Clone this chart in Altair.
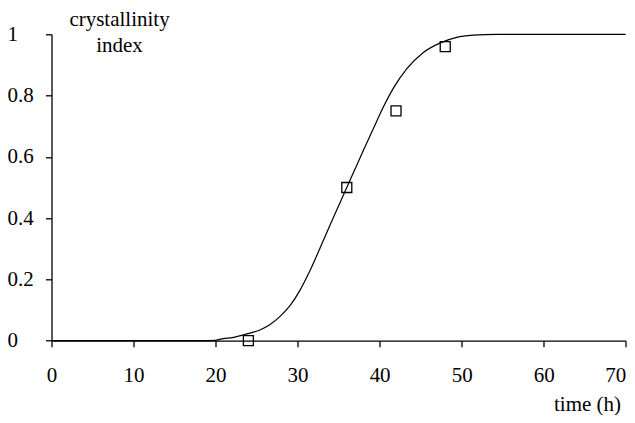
import altair as alt
import pandas as pd

# fitted curve
curve_time = [0, 10, 18, 20, 20.6, 22.2, 23.8, 25.4, 26.6, 27.9, 29.1, 30.3, 31.5, 32.7,
              34.0, 35.2, 36.0, 36.8, 38.0, 39.2, 40.5, 41.7, 43.3, 45.3, 47.4, 49.4,
              51.4, 54.3, 57, 60, 70]
curve_ci = [0, 0, 0, 0.001, 0.005, 0.011, 0.022, 0.035, 0.052, 0.08, 0.115, 0.165, 0.228, 0.30,
            0.38, 0.452, 0.50, 0.548, 0.62, 0.69, 0.765, 0.825, 0.887, 0.94, 0.972, 0.99,
            0.997, 1.0, 1.0, 1.0, 1.0]

# measured points
obs_time = [24, 36, 42, 48]
obs_ci = [0, 0.5, 0.75, 0.96]

x_ticks = [0, 10, 20, 30, 40, 50, 60, 70]
y_ticks = [0, 0.2, 0.4, 0.6, 0.8, 1]

curve_df = pd.DataFrame({"t": curve_time, "ci": curve_ci})
obs_df = pd.DataFrame({"t": obs_time, "ci": obs_ci})

FONT = "'Liberation Serif', 'Times New Roman', serif"

x_enc = alt.X(
    "t:Q",
    scale=alt.Scale(domain=[0, 70], nice=False),
    axis=alt.Axis(
        values=x_ticks,
        title="time (h)",
        titleAlign="right",
        titleBaseline="alphabetic",
        titleX=569,
        titleY=69.5,
        labelPadding=18,
        labelFlush=False,
        labelAlign={"condition": {"test": "datum.value == 70", "value": "right"}, "value": "center"},
    ),
)
y_enc = alt.Y(
    "ci:Q",
    scale=alt.Scale(domain=[0, 1], nice=False),
    axis=alt.Axis(
        values=y_ticks,
        format="~g",
        title=["crystallinity", "index"],
        titleAngle=0,
        titleAlign="center",
        titleBaseline="alphabetic",
        titleX=67.5,
        titleY=-9,
        titleLineHeight=26,
        labelAlign="left",
        labelBaseline="middle",
        labelPadding=38.5,
        labelFlush=False,
    ),
)

line = alt.Chart(curve_df).mark_line(
    color="black", strokeWidth=1.2, interpolate="monotone"
).encode(x=x_enc, y=y_enc)

pts = alt.Chart(obs_df).mark_point(
    shape="square", filled=False, size=100, color="black", strokeWidth=1.3, opacity=1
).encode(x="t:Q", y="ci:Q")

chart = (
    alt.layer(line, pts)
    .properties(
        width=574.2,
        height=306.4,
        autosize=alt.AutoSizeParams(type="none"),
        padding={"left": 43.5, "top": 26.3, "right": 1.3, "bottom": 74},
        background="white",
    )
    .configure_view(strokeWidth=0)
    .configure_axis(
        grid=False,
        domainColor="black",
        domainWidth=1.3,
        tickColor="black",
        tickWidth=1.3,
        tickSize=6,
        labelFont=FONT,
        labelFontSize=21,
        labelColor="black",
        titleFont=FONT,
        titleFontSize=21,
        titleFontWeight="normal",
        titleColor="black",
    )
)

chart.save("out.html", embed_options={"renderer": "svg", "actions": False})
